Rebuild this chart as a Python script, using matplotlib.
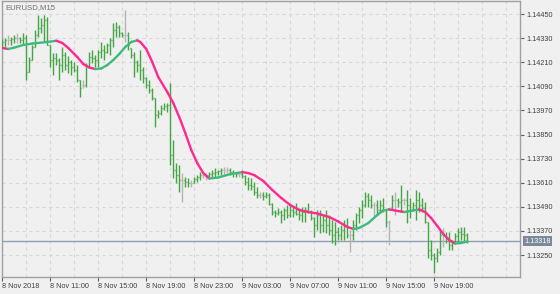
import numpy as np
import matplotlib.pyplot as plt

# EURUSD M15 bars, 8 Nov 2018 07:00 .. 9 Nov 21:45
symbol = "EURUSD,M15"

opens = [
    1.14296, 1.14311, 1.14321, 1.14321, 1.14326, 1.14331, 1.14331, 1.14321, 1.14331, 1.14161,
    1.14221, 1.14286, 1.14346, 1.14381, 1.14396, 1.14420, 1.14296, 1.14221, 1.14231, 1.14221,
    1.14196, 1.14246, 1.14196, 1.14211, 1.14186, 1.14171, 1.14122, 1.14097, 1.14097, 1.14191,
    1.14236, 1.14231, 1.14221, 1.14261, 1.14271, 1.14261, 1.14296, 1.14321, 1.14371, 1.14386,
    1.14356, 1.14346, 1.14346, 1.14281, 1.14246, 1.14211, 1.14196, 1.14171, 1.14132, 1.14097,
    1.14072, 1.14032, 1.13947, 1.13957, 1.13982, 1.13992, 1.13997, 1.13748, 1.13673, 1.13648,
    1.13624, 1.13624, 1.13614, 1.13609, 1.13609, 1.13629, 1.13638, 1.13648, 1.13648, 1.13648,
    1.13653, 1.13658, 1.13663, 1.13668, 1.13673, 1.13673, 1.13673, 1.13663, 1.13658, 1.13653,
    1.13653, 1.13643, 1.13614, 1.13599, 1.13594, 1.13564, 1.13549, 1.13549, 1.13544, 1.13549,
    1.13504, 1.13464, 1.13459, 1.13464, 1.13449, 1.13474, 1.13449, 1.13474, 1.13464, 1.13454,
    1.13449, 1.13464, 1.13474, 1.13464, 1.13434, 1.13400, 1.13449, 1.13400, 1.13424, 1.13400,
    1.13375, 1.13350, 1.13365, 1.13350, 1.13375, 1.13400, 1.13350, 1.13350, 1.13400, 1.13449,
    1.13474, 1.13499, 1.13544, 1.13524, 1.13499, 1.13499, 1.13474, 1.13499, 1.13474, 1.13414,
    1.13484, 1.13524, 1.13524, 1.13514, 1.13524, 1.13524, 1.13499, 1.13474, 1.13499, 1.13524,
    1.13499, 1.13484, 1.13414, 1.13275, 1.13250, 1.13235, 1.13265, 1.13350, 1.13350, 1.13335,
    1.13300, 1.13315, 1.13345, 1.13365, 1.13355, 1.13350,
]
highs = [
    1.14326, 1.14331, 1.14346, 1.14336, 1.14346, 1.14356, 1.14336, 1.14356, 1.14346, 1.14236,
    1.14296, 1.14371, 1.14445, 1.14430, 1.14445, 1.14435, 1.14296, 1.14256, 1.14256, 1.14231,
    1.14286, 1.14261, 1.14241, 1.14221, 1.14211, 1.14196, 1.14122, 1.14122, 1.14206, 1.14261,
    1.14271, 1.14246, 1.14271, 1.14311, 1.14296, 1.14306, 1.14331, 1.14405, 1.14410, 1.14396,
    1.14361, 1.14470, 1.14361, 1.14281, 1.14261, 1.14221, 1.14271, 1.14186, 1.14136, 1.14122,
    1.14082, 1.14032, 1.13972, 1.13997, 1.14007, 1.14007, 1.14107, 1.13823, 1.13708, 1.13698,
    1.13658, 1.13638, 1.13634, 1.13624, 1.13638, 1.13648, 1.13663, 1.13663, 1.13658, 1.13663,
    1.13673, 1.13683, 1.13673, 1.13683, 1.13688, 1.13688, 1.13683, 1.13673, 1.13663, 1.13663,
    1.13673, 1.13648, 1.13638, 1.13634, 1.13614, 1.13589, 1.13564, 1.13564, 1.13564, 1.13559,
    1.13509, 1.13474, 1.13484, 1.13474, 1.13484, 1.13499, 1.13499, 1.13489, 1.13509, 1.13484,
    1.13489, 1.13489, 1.13509, 1.13474, 1.13439, 1.13474, 1.13474, 1.13449, 1.13474, 1.13449,
    1.13424, 1.13414, 1.13390, 1.13400, 1.13424, 1.13434, 1.13375, 1.13424, 1.13459, 1.13489,
    1.13524, 1.13564, 1.13559, 1.13549, 1.13514, 1.13524, 1.13524, 1.13534, 1.13474, 1.13424,
    1.13549, 1.13564, 1.13534, 1.13599, 1.13534, 1.13574, 1.13534, 1.13514, 1.13574, 1.13564,
    1.13534, 1.13514, 1.13414, 1.13325, 1.13260, 1.13285, 1.13375, 1.13385, 1.13365, 1.13365,
    1.13325, 1.13360, 1.13385, 1.13390, 1.13390, 1.13360,
]
lows = [
    1.14281, 1.14286, 1.14296, 1.14296, 1.14306, 1.14306, 1.14306, 1.14296, 1.14122, 1.14161,
    1.14221, 1.14286, 1.14336, 1.14356, 1.14311, 1.14296, 1.14186, 1.14146, 1.14196, 1.14122,
    1.14161, 1.14171, 1.14156, 1.14146, 1.14161, 1.14112, 1.14037, 1.14082, 1.14087, 1.14186,
    1.14206, 1.14186, 1.14186, 1.14231, 1.14221, 1.14256, 1.14246, 1.14286, 1.14336, 1.14336,
    1.14336, 1.14311, 1.14271, 1.14231, 1.14136, 1.14161, 1.14122, 1.14107, 1.14082, 1.14057,
    1.14022, 1.13888, 1.13932, 1.13947, 1.13972, 1.13962, 1.13698, 1.13634, 1.13609, 1.13564,
    1.13514, 1.13589, 1.13589, 1.13589, 1.13609, 1.13614, 1.13624, 1.13634, 1.13624, 1.13634,
    1.13634, 1.13638, 1.13648, 1.13648, 1.13648, 1.13658, 1.13648, 1.13638, 1.13638, 1.13638,
    1.13634, 1.13599, 1.13574, 1.13574, 1.13549, 1.13534, 1.13534, 1.13524, 1.13534, 1.13499,
    1.13449, 1.13439, 1.13449, 1.13409, 1.13424, 1.13434, 1.13439, 1.13439, 1.13449, 1.13424,
    1.13414, 1.13414, 1.13459, 1.13424, 1.13340, 1.13375, 1.13360, 1.13365, 1.13360, 1.13350,
    1.13310, 1.13300, 1.13325, 1.13325, 1.13325, 1.13335, 1.13265, 1.13325, 1.13375, 1.13409,
    1.13434, 1.13489, 1.13489, 1.13484, 1.13439, 1.13449, 1.13459, 1.13464, 1.13390, 1.13300,
    1.13474, 1.13449, 1.13489, 1.13464, 1.13499, 1.13409, 1.13434, 1.13474, 1.13424, 1.13464,
    1.13464, 1.13409, 1.13235, 1.13225, 1.13160, 1.13215, 1.13250, 1.13290, 1.13310, 1.13275,
    1.13275, 1.13310, 1.13315, 1.13325, 1.13315, 1.13310,
]
closes = [
    1.14311, 1.14321, 1.14321, 1.14326, 1.14331, 1.14331, 1.14321, 1.14331, 1.14161, 1.14221,
    1.14286, 1.14346, 1.14381, 1.14396, 1.14420, 1.14296, 1.14221, 1.14231, 1.14221, 1.14196,
    1.14246, 1.14196, 1.14211, 1.14186, 1.14171, 1.14122, 1.14082, 1.14097, 1.14191, 1.14236,
    1.14231, 1.14221, 1.14261, 1.14271, 1.14261, 1.14296, 1.14321, 1.14371, 1.14386, 1.14356,
    1.14346, 1.14346, 1.14296, 1.14246, 1.14211, 1.14196, 1.14171, 1.14132, 1.14097, 1.14072,
    1.14032, 1.13947, 1.13957, 1.13982, 1.13992, 1.13997, 1.13748, 1.13673, 1.13648, 1.13624,
    1.13624, 1.13614, 1.13609, 1.13609, 1.13629, 1.13638, 1.13648, 1.13648, 1.13648, 1.13653,
    1.13658, 1.13663, 1.13668, 1.13673, 1.13673, 1.13673, 1.13663, 1.13658, 1.13653, 1.13653,
    1.13643, 1.13614, 1.13599, 1.13594, 1.13564, 1.13549, 1.13549, 1.13544, 1.13549, 1.13504,
    1.13464, 1.13459, 1.13464, 1.13449, 1.13474, 1.13449, 1.13474, 1.13464, 1.13454, 1.13449,
    1.13464, 1.13474, 1.13464, 1.13434, 1.13400, 1.13449, 1.13400, 1.13424, 1.13400, 1.13375,
    1.13350, 1.13365, 1.13350, 1.13375, 1.13400, 1.13350, 1.13350, 1.13400, 1.13449, 1.13474,
    1.13499, 1.13544, 1.13524, 1.13499, 1.13499, 1.13474, 1.13499, 1.13474, 1.13414, 1.13414,
    1.13524, 1.13524, 1.13514, 1.13524, 1.13524, 1.13499, 1.13474, 1.13499, 1.13524, 1.13499,
    1.13484, 1.13414, 1.13275, 1.13250, 1.13235, 1.13265, 1.13350, 1.13350, 1.13335, 1.13300,
    1.13315, 1.13345, 1.13365, 1.13355, 1.13350, 1.13318,
]

# smoothed moving average read at these bars
ma_bars = [0, 2, 4, 7, 10, 15, 18, 20, 22, 25, 27, 29, 31, 33, 35, 37, 39, 41, 43, 45,
           46, 48, 50, 52, 55, 57, 59, 61, 63, 65, 67, 69, 72, 76, 80, 82, 84, 87, 90, 93,
           96, 99, 102, 105, 109, 112, 115, 117, 119, 122, 125, 127, 129, 132, 134, 137, 139, 141, 143, 145,
           147, 149, 151, 153, 155]
ma_values = [1.14281, 1.14276, 1.14283, 1.14296, 1.14303, 1.14311, 1.14317, 1.14306, 1.14281, 1.14236,
             1.14201, 1.14184, 1.14176, 1.14179, 1.14196, 1.14221, 1.14251, 1.14286, 1.14311, 1.14319,
             1.14311, 1.14276, 1.14211, 1.14136, 1.14062, 1.14007, 1.13937, 1.13858, 1.13773, 1.13708,
             1.13658, 1.13631, 1.13636, 1.13653, 1.13663, 1.13658, 1.13648, 1.13619, 1.13574, 1.13534,
             1.13499, 1.13474, 1.13464, 1.13457, 1.13439, 1.13417, 1.13390, 1.13380, 1.13385, 1.13409,
             1.13449, 1.13472, 1.13477, 1.13469, 1.13464, 1.13472, 1.13477, 1.13464, 1.13434, 1.13395,
             1.13355, 1.13325, 1.13307, 1.13310, 1.13317]

last_price = 1.13318

time_ticks = [0, 16, 32, 48, 64, 80, 96, 112, 128, 144]
time_labels = ["8 Nov 2018", "8 Nov 11:00", "8 Nov 15:00", "8 Nov 19:00", "8 Nov 23:00",
               "9 Nov 03:00", "9 Nov 07:00", "9 Nov 11:00", "9 Nov 15:00", "9 Nov 19:00"]
price_ticks = [1.14450, 1.14330, 1.14210, 1.14090, 1.13970, 1.13850,
               1.13730, 1.13610, 1.13490, 1.13370, 1.13250]

bg = "#f0f0f0"
bar_green = "#45a545"
ma_up = "#3dbb7c"
ma_down = "#ff2a90"

plt.rcParams["font.family"] = ["Liberation Sans", "DejaVu Sans"]

fig = plt.figure(figsize=(5.6, 2.94), dpi=100, facecolor=bg)
ax = fig.add_axes([2 / 560, 1 - 277 / 294, 518 / 560, 276 / 294])
ax.set_facecolor(bg)

n = len(closes)
idx = np.arange(n)
o = np.array(opens)
h = np.array(highs)
l = np.array(lows)
c = np.array(closes)

# grid
for gx in np.arange(0, 176, 8):
    ax.axvline(gx, color="#d8d8d8", lw=0.8, ls=(0, (3, 3)), zorder=0)
for gy in price_ticks:
    ax.axhline(gy, color="#d8d8d8", lw=0.8, ls=(0, (3, 3)), zorder=0)

# bars
colors = [("#b4b4b4" if abs(oo - cc) < 1e-6 else bar_green) for oo, cc in zip(o, c)]
ax.vlines(idx, l, h, colors=colors, lw=1.0, zorder=3)
ax.hlines(o, idx - 0.4, idx, colors=colors, lw=1.0, zorder=3)
ax.hlines(c, idx, idx + 0.4, colors=colors, lw=1.0, zorder=3)

# moving average, coloured by direction
for k in range(len(ma_bars) - 1):
    col = ma_up if ma_values[k + 1] >= ma_values[k] else ma_down
    ax.plot(ma_bars[k:k + 2], ma_values[k:k + 2], color=col, lw=1.7,
            solid_capstyle="round", zorder=4)

# last price line
ax.axhline(last_price, color="#8fa0b3", lw=1.0, zorder=2)

ax.set_xlim(-0.1, 172.6)
ax.set_ylim(1.131405, 1.14515)

ax.yaxis.tick_right()
ax.set_yticks(price_ticks)
ax.set_yticklabels([f"{p:.5f}" for p in price_ticks])
ax.set_xticks(time_ticks)
ax.set_xticklabels(time_labels, ha="left")
ax.tick_params(axis="both", colors="#606060", labelcolor="#404040", labelsize=5.2,
               length=3, width=0.8, pad=1.5)
for sp in ax.spines.values():
    sp.set_color("#a0a0a0")
    sp.set_linewidth(1.0)

ax.text(0.006, 0.99, symbol, transform=ax.transAxes, ha="left", va="top",
        fontsize=5.6, color="#707070")

ax.annotate(f"{last_price:.5f}", xy=(1.0, last_price), xycoords=("axes fraction", "data"),
            xytext=(3, 0), textcoords="offset points", ha="left", va="center",
            fontsize=5.2, color="white",
            bbox=dict(boxstyle="square,pad=0.2", fc="#7b8a9b", ec="none"))

fig.savefig("out.png", dpi=100, facecolor=bg)
